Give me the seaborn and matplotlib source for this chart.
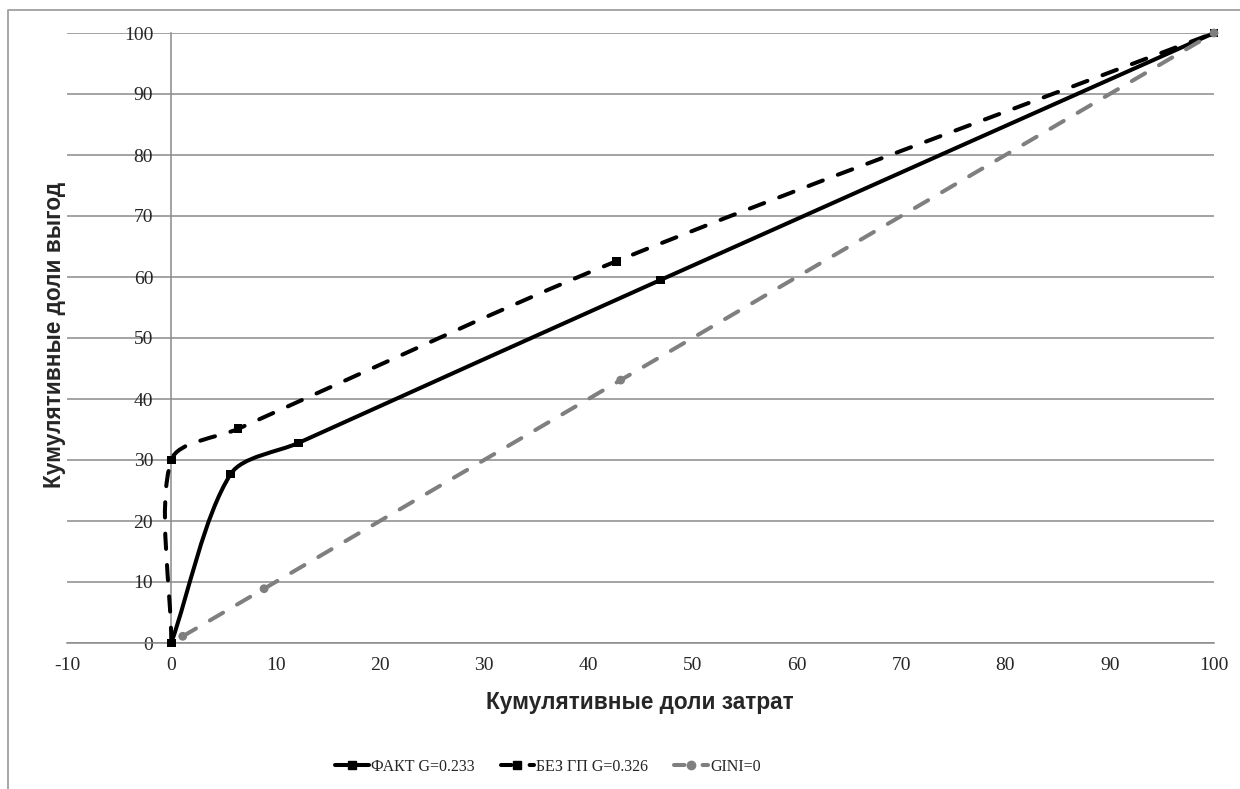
import numpy as np
import pandas as pd
import matplotlib
matplotlib.use("Agg")
import matplotlib.pyplot as plt
import seaborn as sns
from matplotlib.path import Path
from matplotlib.patches import PathPatch
from matplotlib.lines import Line2D

# cumulative shares (%)
fact_x = [0, 5.7, 12.2, 46.9, 100]
fact_y = [0, 27.7, 32.8, 59.5, 100]
nogp_x = [0, 0, 6.4, 42.7, 100]
nogp_y = [0, 30, 35.1, 62.6, 100]
gini_x = [1.1, 8.9, 43.1, 100]
gini_y = [1.1, 8.9, 43.1, 100]

series_names = ["ФАКТ G=0.233", "БЕЗ ГП G=0.326", "GINI=0"]
x_ticks = list(range(-10, 101, 10))
y_ticks = list(range(0, 101, 10))
x_label = "Кумулятивные доли затрат"
y_label = "Кумулятивные доли выгод"

colors = {series_names[0]: "black", series_names[1]: "black", series_names[2]: "#7f7f7f"}
markers = {series_names[0]: "s", series_names[1]: "s", series_names[2]: "o"}
dashes = {series_names[0]: "solid", series_names[1]: (0, (3.8, 4.0)), series_names[2]: (0, (3.8, 4.0))}
legend_dashes = {series_names[0]: "solid", series_names[1]: (0, (2.6, 4.5)), series_names[2]: (0, (2.6, 4.5))}
GRID = "#8a8a8a"
LW = 2.9

df = pd.concat([
    pd.DataFrame({"x": fact_x, "y": fact_y, "series": series_names[0]}),
    pd.DataFrame({"x": nogp_x, "y": nogp_y, "series": series_names[1]}),
    pd.DataFrame({"x": gini_x, "y": gini_y, "series": series_names[2]}),
], ignore_index=True)


def smooth_path(xs, ys, ax, tension=0.3):
    # excel style smoothed line: bezier segments, tangent = next - prev,
    # control arm scaled by the screen length of the neighbouring segments
    p = np.column_stack([xs, ys]).astype(float)
    s = ax.transData.transform(p)
    n = len(p)
    dist = lambda i, j: np.hypot(*(s[j] - s[i]))

    verts = [p[0]]
    codes = [Path.MOVETO]
    for i in range(n - 1):
        a = i - 1
        b = i + 2
        if a >= 0:
            c1 = p[i] + (p[i + 1] - p[a]) * tension * dist(i, i + 1) / (dist(a, i) + dist(i, i + 1))
        else:
            c1 = p[i] + (p[i + 1] - p[i]) * tension
        if b < n:
            c2 = p[i + 1] - (p[b] - p[i]) * tension * dist(i, i + 1) / (dist(i, i + 1) + dist(i + 1, b))
        else:
            c2 = p[i + 1] - (p[i + 1] - p[i]) * tension
        verts += [c1, c2, p[i + 1]]
        codes += [Path.CURVE4] * 3
    return Path(verts, codes)


sns.set_theme(style="white")
plt.rcParams["font.family"] = ["Liberation Serif", "DejaVu Serif"]

fig = plt.figure(figsize=(12.4, 7.89), dpi=100)
ax = fig.add_axes([67 / 1240, 1 - 643 / 789, (1214 - 67) / 1240, (643 - 33) / 789])
ax.set_xlim(-10, 100)
ax.set_ylim(0, 100)

for name, g in df.groupby("series", sort=False):
    patch = PathPatch(smooth_path(g["x"].values, g["y"].values, ax), fill=False,
                      edgecolor=colors[name], lw=LW, linestyle=dashes[name],
                      capstyle="round", joinstyle="round", zorder=3, clip_on=False)
    ax.add_patch(patch)

sns.scatterplot(data=df, x="x", y="y", hue="series", style="series", palette=colors,
                markers=markers, s=40, linewidth=0, legend=False, ax=ax, zorder=4, clip_on=False)

ax.set_xlim(-10, 100)
ax.set_ylim(0, 100)
ax.set_xticks(x_ticks)
ax.set_yticks(y_ticks)
ax.set_xlabel("")
ax.set_ylabel("")
ax.grid(axis="y", color=GRID, lw=1.1)
ax.set_axisbelow(True)

for side in ["top", "right"]:
    ax.spines[side].set_visible(False)
ax.spines["left"].set_position(("data", 0))
ax.spines["bottom"].set_position(("data", 0))
for side in ["left", "bottom"]:
    ax.spines[side].set_color(GRID)
    ax.spines[side].set_linewidth(1.1)
ax.tick_params(axis="x", direction="out", length=5, width=1.1, color=GRID, pad=5, labelsize=14)
ax.tick_params(axis="y", length=0, pad=13, labelsize=14)
ax.set_xticklabels([str(t) for t in x_ticks])
ax.set_yticklabels([str(t) for t in y_ticks])

fig.text(640 / 1240, 1 - 703 / 789, x_label, ha="center", va="center",
         family="Liberation Sans", weight="bold", fontsize=16.3)
fig.text(54 / 1240, 1 - 335 / 789, y_label, ha="center", va="center", rotation=90,
         family="Liberation Sans", weight="bold", fontsize=16.3)

handles = [Line2D([], [], color=colors[n], lw=LW, linestyle=legend_dashes[n], marker=markers[n],
                  markersize=6, dash_capstyle="round") for n in series_names]
fig.legend(handles, series_names, loc="center", bbox_to_anchor=(548 / 1240, 1 - 767 / 789),
           ncol=3, frameon=False, fontsize=11.5, handlelength=2.1, handletextpad=0.15,
           columnspacing=1.6, numpoints=1)

# outer chart frame (only the top and left edges are inside the picture)
fig.add_artist(Line2D([8 / 1240, 8 / 1240, 1], [0, 1 - 10 / 789, 1 - 10 / 789],
                      transform=fig.transFigure, color="#a0a0a0", lw=1.3))

fig.savefig("out.png", dpi=100)
